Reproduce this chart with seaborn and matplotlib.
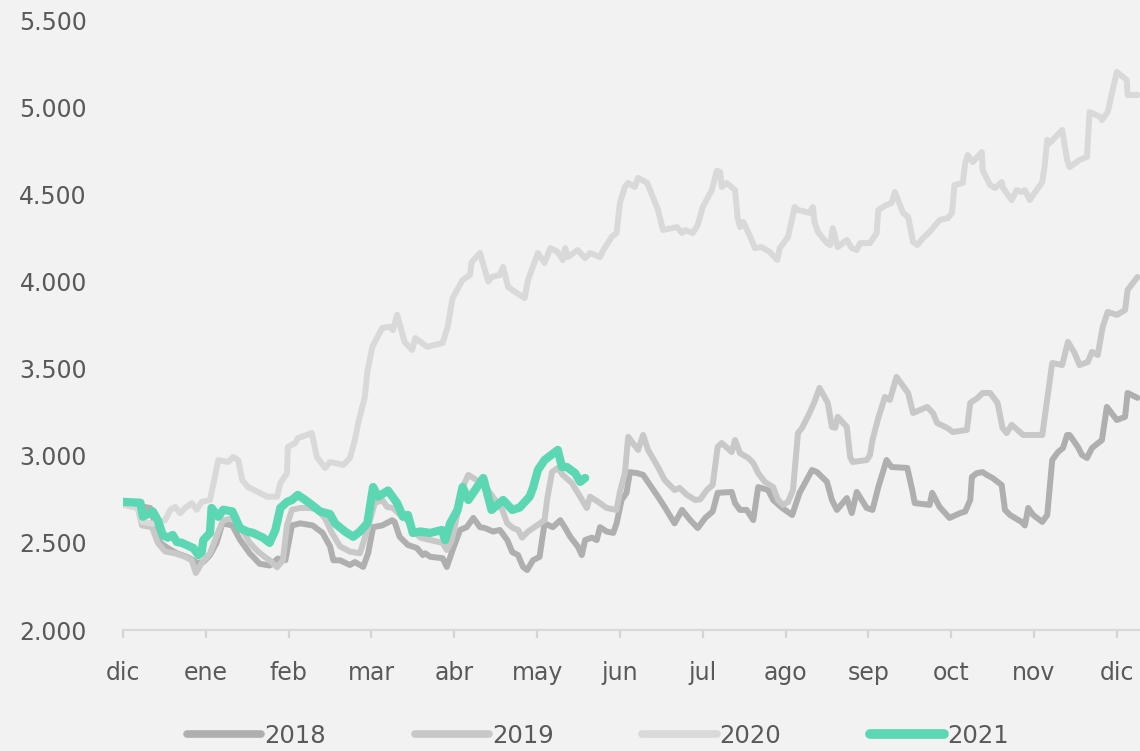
import matplotlib
matplotlib.use("Agg")
import matplotlib.pyplot as plt
from matplotlib.ticker import FuncFormatter, FixedLocator
import seaborn as sns
import pandas as pd

# ---------------- data (x = months since 1 Dec, y = value) ----------------
months = ["dic", "ene", "feb", "mar", "abr", "may", "jun", "jul", "ago",
          "sep", "oct", "nov", "dic"]

x_2018 = [0.00, 0.21, 0.33, 0.39, 0.45, 0.54, 0.65, 0.77, 0.85, 0.89, 0.97, 1.05, 1.13, 1.20,
          1.32, 1.41, 1.53, 1.65, 1.77, 1.87, 1.96, 2.04, 2.14, 2.29, 2.41, 2.50, 2.54, 2.62,
          2.74, 2.80, 2.90, 2.96, 3.02, 3.13, 3.25, 3.28, 3.34, 3.44, 3.55, 3.62, 3.65, 3.71,
          3.86, 3.91, 3.98, 4.07, 4.15, 4.23, 4.31, 4.37, 4.47, 4.55, 4.64, 4.70, 4.77, 4.83,
          4.88, 4.95, 5.03, 5.09, 5.19, 5.28, 5.34, 5.40, 5.49, 5.54, 5.58, 5.66, 5.72, 5.76,
          5.84, 5.92, 5.96, 6.02, 6.08, 6.12, 6.21, 6.28, 6.46, 6.54, 6.66, 6.75, 6.85, 6.94,
          7.03, 7.12, 7.18, 7.35, 7.39, 7.45, 7.53, 7.61, 7.67, 7.79, 7.85, 7.96, 8.08, 8.17,
          8.32, 8.38, 8.50, 8.56, 8.62, 8.74, 8.80, 8.86, 8.98, 9.05, 9.12, 9.22, 9.28, 9.47,
          9.53, 9.56, 9.74, 9.77, 9.86, 9.98, 10.11, 10.17, 10.23, 10.25, 10.31, 10.38, 10.43,
          10.50, 10.61, 10.65, 10.71, 10.85, 10.89, 10.93, 10.99, 11.10, 11.16, 11.22, 11.29,
          11.35, 11.40, 11.43, 11.53, 11.58, 11.64, 11.70, 11.82, 11.88, 12.00, 12.10, 12.13,
          12.25]
y_2018 = [2720, 2710, 2700, 2600, 2500, 2470, 2440, 2420, 2400, 2385, 2390, 2430, 2500, 2612,
          2600, 2520, 2440, 2380, 2370, 2410, 2400, 2600, 2612, 2600, 2557, 2480, 2400, 2400,
          2373, 2390, 2362, 2440, 2590, 2600, 2630, 2620, 2535, 2488, 2470, 2430, 2440, 2420,
          2412, 2362, 2459, 2574, 2590, 2643, 2590, 2585, 2565, 2574, 2516, 2447, 2430, 2362,
          2344, 2400, 2420, 2612, 2590, 2630, 2585, 2535, 2480, 2430, 2516, 2530, 2516, 2590,
          2565, 2557, 2612, 2746, 2787, 2906, 2900, 2890, 2765, 2706, 2612, 2689, 2630, 2585,
          2643, 2680, 2787, 2792, 2728, 2689, 2689, 2631, 2820, 2803, 2746, 2700, 2660, 2787,
          2918, 2906, 2850, 2746, 2689, 2757, 2671, 2792, 2700, 2689, 2820, 2975, 2935, 2930,
          2803, 2728, 2718, 2787, 2706, 2643, 2671, 2680, 2746, 2878, 2900, 2906, 2890,
          2872, 2832, 2689, 2660, 2620, 2600, 2700, 2660, 2620, 2660, 2975, 3021,
          3044, 3119, 3119, 3050, 3004, 2987, 3044, 3090, 3280, 3205, 3223, 3360,
          3332]

x_2019 = [0.00, 0.18, 0.23, 0.35, 0.42, 0.51, 0.63, 0.75, 0.83, 0.88, 0.95, 1.05, 1.13, 1.21,
          1.32, 1.41, 1.53, 1.63, 1.71, 1.77, 1.86, 1.93, 1.98, 2.04, 2.14, 2.26, 2.35, 2.44,
          2.52, 2.62, 2.74, 2.86, 2.95, 3.04, 3.13, 3.19, 3.26, 3.37, 3.43, 3.50, 3.59, 3.71,
          3.86, 3.91, 3.97, 4.04, 4.10, 4.17, 4.27, 4.35, 4.43, 4.52, 4.58, 4.64, 4.71, 4.77,
          4.82, 4.89, 5.00, 5.09, 5.12, 5.18, 5.25, 5.31, 5.42, 5.52, 5.60, 5.64, 5.76, 5.84,
          5.96, 6.00, 6.06, 6.10, 6.22, 6.28, 6.34, 6.46, 6.54, 6.66, 6.72, 6.81, 6.91, 6.97,
          7.05, 7.12, 7.18, 7.23, 7.35, 7.39, 7.45, 7.55, 7.61, 7.67, 7.75, 7.85, 7.91, 7.97,
          8.03, 8.09, 8.15, 8.20, 8.29, 8.35, 8.41, 8.51, 8.56, 8.60, 8.63, 8.74, 8.78, 8.81,
          8.98, 9.02, 9.05, 9.12, 9.20, 9.26, 9.34, 9.48, 9.54, 9.71, 9.78, 9.83, 9.95, 10.02,
          10.19, 10.23, 10.32, 10.38, 10.47, 10.56, 10.62, 10.67, 10.73, 10.87, 11.10, 11.13,
          11.22, 11.34, 11.41, 11.49, 11.55, 11.65, 11.70, 11.77, 11.83, 11.89, 12.00, 12.10,
          12.13, 12.25]
y_2019 = [2720, 2700, 2600, 2590, 2500, 2450, 2440, 2420, 2400, 2327, 2385, 2440, 2540, 2630,
          2640, 2600, 2500, 2450, 2420, 2400, 2360, 2400, 2600, 2690, 2700, 2700, 2690, 2640,
          2560, 2480, 2450, 2440, 2574, 2728, 2746, 2706, 2700, 2650, 2631, 2574, 2530, 2516,
          2500, 2459, 2516, 2670, 2820, 2890, 2860, 2843, 2787, 2728, 2689, 2612, 2585, 2574,
          2530, 2565, 2600, 2631, 2746, 2906, 2930, 2890, 2843, 2765, 2700, 2765, 2728, 2700,
          2689, 2792, 2900, 3108, 3033, 3119, 3033, 2935, 2861, 2803, 2815, 2775, 2746, 2750,
          2803, 2832, 3050, 3073, 3021, 3090, 3015, 2987, 2958, 2900, 2850, 2820, 2746, 2718,
          2735, 2803, 3130, 3160, 3245, 3310, 3389, 3303, 3165, 3160, 3223, 3165, 2993, 2964,
          2975, 3004, 3090, 3217, 3337, 3320, 3452, 3360, 3245, 3280, 3245, 3188, 3160, 3136,
          3148, 3303, 3332, 3360, 3360, 3303, 3160, 3130, 3177, 3119, 3119, 3223,
          3532, 3520, 3653, 3590, 3520, 3538, 3596, 3578, 3740, 3825, 3808, 3836,
          3951, 4025]

x_2020 = [0.00, 0.18, 0.23, 0.35, 0.45, 0.51, 0.57, 0.63, 0.69, 0.75, 0.83, 0.89, 0.95, 1.05,
          1.11, 1.15, 1.27, 1.33, 1.39, 1.44, 1.51, 1.63, 1.74, 1.86, 1.90, 1.98, 1.99, 2.08,
          2.11, 2.28, 2.34, 2.44, 2.50, 2.66, 2.74, 2.80, 2.84, 2.92, 2.95, 3.01, 3.13, 3.22,
          3.26, 3.31, 3.40, 3.49, 3.53, 3.67, 3.86, 3.92, 3.98, 4.10, 4.19, 4.21, 4.31, 4.41,
          4.45, 4.55, 4.59, 4.65, 4.79, 4.85, 4.89, 5.01, 5.09, 5.16, 5.25, 5.31, 5.34, 5.37,
          5.49, 5.58, 5.64, 5.76, 5.80, 5.90, 5.96, 6.00, 6.06, 6.10, 6.18, 6.22, 6.33, 6.46,
          6.52, 6.69, 6.75, 6.79, 6.88, 6.94, 7.00, 7.11, 7.17, 7.21, 7.23, 7.29, 7.39, 7.42,
          7.45, 7.49, 7.57, 7.63, 7.71, 7.81, 7.90, 7.93, 8.03, 8.11, 8.15, 8.29, 8.33, 8.35,
          8.39, 8.50, 8.54, 8.57, 8.63, 8.74, 8.80, 8.86, 8.90, 9.02, 9.10, 9.12, 9.22, 9.28,
          9.32, 9.42, 9.48, 9.54, 9.59, 9.66, 9.74, 9.86, 9.96, 10.01, 10.04, 10.14, 10.17,
          10.20, 10.26, 10.37, 10.38, 10.47, 10.53, 10.61, 10.62, 10.67, 10.73, 10.79, 10.85,
          10.89, 10.95, 10.99, 11.10, 11.13, 11.16, 11.19, 11.34, 11.40, 11.43, 11.55, 11.64,
          11.67, 11.80, 11.82, 11.89, 12.00, 12.12, 12.13, 12.25]
y_2020 = [2720, 2700, 2620, 2610, 2620, 2631, 2689, 2706, 2670, 2700, 2728, 2690, 2735, 2746,
          2880, 2975, 2964, 2993, 2975, 2861, 2820, 2792, 2765, 2765, 2843, 2900, 3050, 3073,
          3100, 3130, 2993, 2930, 2964, 2947, 2987, 3090, 3188, 3337, 3480, 3625, 3733, 3740,
          3721, 3808, 3653, 3607, 3675, 3625, 3647, 3740, 3905, 4008, 4037, 4111, 4163, 4000,
          4025, 4037, 4083, 3968, 3922, 3905, 4008, 4163, 4106, 4191, 4169, 4123, 4191, 4140,
          4180, 4134, 4163, 4140, 4180, 4255, 4278, 4450, 4542, 4565, 4542, 4594, 4565, 4410,
          4295, 4312, 4278, 4295, 4278, 4324, 4427, 4524, 4635, 4628, 4542, 4565, 4524, 4370,
          4312, 4341, 4260, 4191, 4197, 4169, 4123, 4191, 4255, 4427, 4410, 4393, 4427, 4341,
          4284, 4220, 4209, 4306, 4197, 4238, 4191, 4180, 4220, 4220, 4278, 4410, 4439, 4450,
          4513, 4393, 4370, 4226, 4209, 4249, 4284, 4352, 4364, 4393, 4553, 4565, 4680,
          4725, 4685, 4742, 4639, 4553, 4536, 4570, 4542, 4507, 4467, 4524, 4513,
          4524, 4467, 4496, 4570, 4668, 4812, 4794, 4869, 4697, 4656, 4697, 4714,
          4972, 4944, 4926, 4972, 5202, 5156, 5070, 5070]

x_2021 = [0.00, 0.21, 0.24, 0.36, 0.42, 0.48, 0.54, 0.60, 0.65, 0.71, 0.85, 0.91, 0.95, 0.97,
          1.05, 1.07, 1.15, 1.21, 1.32, 1.35, 1.41, 1.50, 1.57, 1.69, 1.77, 1.84, 1.90, 1.98,
          2.04, 2.11, 2.20, 2.28, 2.38, 2.50, 2.56, 2.68, 2.78, 2.86, 2.95, 3.02, 3.08, 3.20,
          3.31, 3.38, 3.44, 3.50, 3.59, 3.71, 3.85, 3.89, 3.95, 4.04, 4.10, 4.17, 4.35, 4.45,
          4.59, 4.70, 4.79, 4.91, 4.95, 5.01, 5.09, 5.25, 5.30, 5.36, 5.46, 5.52, 5.58]
y_2021 = [2735, 2730, 2650, 2680, 2630, 2545, 2530, 2545, 2505, 2500, 2470, 2430, 2447, 2516,
          2557, 2700, 2650, 2690, 2680, 2650, 2585, 2565, 2557, 2530, 2500, 2574, 2700, 2735,
          2746, 2775, 2746, 2718, 2680, 2665, 2612, 2565, 2535, 2565, 2612, 2820, 2765, 2800,
          2728, 2650, 2660, 2557, 2565, 2557, 2574, 2516, 2612, 2689, 2820, 2746, 2872, 2689,
          2746, 2689, 2703, 2765, 2815, 2918, 2975, 3033, 2935, 2935, 2900, 2850, 2872]

series = [("2018", x_2018, y_2018), ("2019", x_2019, y_2019),
          ("2020", x_2020, y_2020), ("2021", x_2021, y_2021)]

# ---------------- styling ----------------
colors = {"2018": "#afafaf", "2019": "#c8c8c8", "2020": "#d9d9d9", "2021": "#5bd8b3"}
widths = {"2018": 4.3, "2019": 4.3, "2020": 4.3, "2021": 6.0}
BG = "#f2f2f2"
TXT = "#595959"

sns.set_style("white", {"axes.facecolor": BG, "figure.facecolor": BG})
plt.rcParams["font.family"] = ["DejaVu Sans"]

fig = plt.figure(figsize=(11.4, 7.51), dpi=100)
fig.patch.set_facecolor(BG)
ax = fig.add_axes([123 / 1140, 1 - 630 / 751, 1017 / 1140, 610 / 751])
ax.set_facecolor(BG)

for name, xs, ys in series:
    df = pd.DataFrame({"mes": xs, "valor": ys})
    sns.lineplot(data=df, x="mes", y="valor", ax=ax, color=colors[name],
                 linewidth=widths[name], sort=False, estimator=None, label=name,
                 solid_capstyle="round", solid_joinstyle="round")

ax.set_xlim(0, 12.28)
ax.set_ylim(2000, 5500)
ax.set_xlabel("")
ax.set_ylabel("")

ax.xaxis.set_major_locator(FixedLocator(list(range(len(months)))))
ax.set_xticklabels(months)
ax.set_yticks([2000, 2500, 3000, 3500, 4000, 4500, 5000, 5500])
ax.yaxis.set_major_formatter(FuncFormatter(lambda v, p: f"{int(v):,}".replace(",", ".")))

for s in ["top", "right", "left"]:
    ax.spines[s].set_visible(False)
ax.spines["bottom"].set_color("#d9d9d9")
ax.spines["bottom"].set_linewidth(1.6)

ax.tick_params(axis="x", bottom=True, colors="#d4d4d4", length=6, width=1.6, pad=16,
               labelsize=17, labelcolor=TXT, direction="out")
ax.tick_params(axis="y", left=False, length=0, pad=26, labelsize=17, labelcolor=TXT)

handles, labels = ax.get_legend_handles_labels()
if ax.get_legend():
    ax.get_legend().remove()
leg = fig.legend(handles, labels, loc="center", bbox_to_anchor=(598 / 1140, 1 - 736 / 751),
                 ncol=4, frameon=False, fontsize=17.5, handlelength=3.05,
                 handletextpad=0.12, columnspacing=3.66, labelcolor=TXT)
for h, name in zip(leg.legend_handles, labels):
    h.set_linewidth(5.5 if name != "2021" else 7)
    h.set_solid_capstyle("round")

fig.savefig("out.png", dpi=100, facecolor=BG)
